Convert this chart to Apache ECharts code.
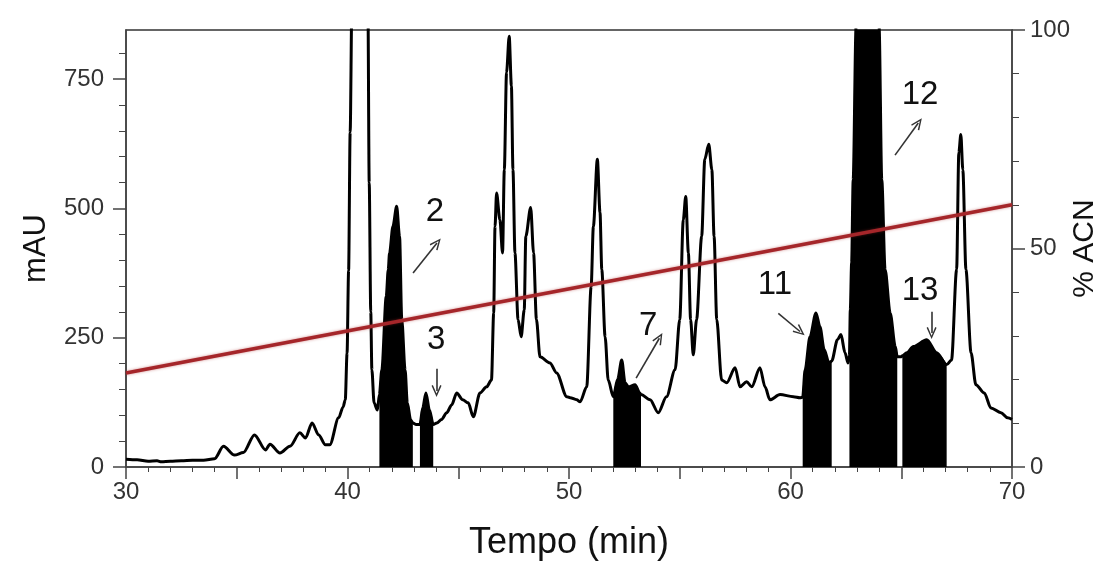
<!DOCTYPE html>
<html>
<head>
<meta charset="utf-8">
<title>Cromatograma</title>
<script src="https://cdn.jsdelivr.net/npm/echarts@6/dist/echarts.min.js"></script>
<style>
  html, body { margin: 0; padding: 0; background: #fff; }
  #chart { width: 1103px; height: 563px; }
</style>
</head>
<body>
<div id="chart"></div>
<script>
// trace: tempo (min) -> absorbance (mAU)
var tempo = [30.0, 30.5, 31.0, 31.4, 31.6, 32.0, 32.5, 33.0, 33.5, 34.0, 34.4, 34.9, 35.3, 35.8, 36.3, 36.5, 36.95, 37.4, 37.85, 38.1,
  38.4, 38.7, 39.0, 39.2, 39.6, 39.8, 39.9, 39.98, 40.05, 40.12, 40.2, 40.6, 40.92, 40.98, 41.05, 41.1, 41.2, 41.35, 41.44, 41.55,
  41.75, 41.84, 41.9, 42.05, 42.22, 42.35, 42.45, 42.6, 42.7, 42.85, 42.95, 43.1, 43.27, 43.4, 43.54, 43.7, 43.87, 44.03, 44.25, 44.48,
  44.7, 44.93, 45.2, 45.45, 45.68, 45.98, 46.28, 46.5, 46.6, 46.66, 46.73, 46.88, 47.0, 47.08, 47.18, 47.3, 47.4, 47.47, 47.56, 47.7,
  47.84, 47.98, 48.05, 48.27, 48.4, 48.53, 48.69, 49.14, 49.44, 49.9, 50.05, 50.35, 50.5, 50.8, 51.0, 51.1, 51.28, 51.4, 51.48, 51.63,
  51.77, 52.0, 52.2, 52.38, 52.53, 52.68, 52.98, 53.2, 53.25, 53.66, 54.03, 54.4, 54.79, 55.0, 55.16, 55.27, 55.39, 55.49, 55.61, 55.76,
  55.99, 56.13, 56.31, 56.45, 56.55, 56.67, 56.89, 57.12, 57.5, 57.72, 58.02, 58.25, 58.62, 58.85, 59.07, 59.53, 60.13, 60.43, 60.55, 60.66,
  60.88, 61.15, 61.33, 61.52, 61.74, 61.86, 62.12, 62.28, 62.46, 62.6, 62.66, 62.7, 62.76, 62.83, 62.96, 63.5, 64.0, 64.12, 64.27, 64.5,
  64.73, 64.82, 65.0, 65.05, 65.25, 65.55, 66.15, 66.6, 67.05, 67.27, 67.5, 67.6, 67.69, 67.78, 67.92, 68.15, 68.37, 68.75, 69.05, 69.5,
  69.8, 70.0];
var mau = [15, 14, 11, 12, 10, 11, 12, 13, 13, 16, 40, 23, 28, 62, 33, 44, 27, 40, 66, 56,
  85, 62, 43, 43, 95, 116, 130, 220, 380, 647, 900, 1500, 900, 550, 300, 188, 124, 110, 140, 188,
  330, 382, 414, 465, 504, 446, 285, 188, 124, 91, 85, 82, 82, 115, 143, 110, 82, 85, 92, 105,
  120, 143, 130, 124, 97, 143, 155, 168, 298, 465, 530, 478, 414, 575, 763, 833, 737, 575, 414, 285,
  252, 304, 446, 502, 414, 285, 213, 201, 182, 136, 134, 130, 126, 155, 349, 465, 595, 492, 382, 252,
  168, 136, 170, 207, 163, 155, 159, 143, 140, 130, 105, 136, 188, 285, 478, 523, 414, 285, 217, 285,
  446, 595, 624, 575, 446, 285, 168, 163, 192, 155, 165, 155, 192, 155, 130, 140, 136, 134, 135, 188,
  252, 298, 271, 227, 201, 205, 246, 256, 221, 201, 215, 304, 395, 556, 850, 1400, 850, 556, 382, 298,
  233, 213, 213, 215, 221, 233, 246, 221, 198, 207, 382, 608, 643, 575, 382, 221, 159, 143, 114, 105,
  95, 92];

// % ACN gradient
var gradTempo = [30, 70];
var gradAcn = [21.5, 60];

// collected fractions (black-filled peaks)
var fracoes = [[41.44, 42.95], [43.27, 43.87], [52.0, 53.25], [60.55, 61.86], [62.66, 64.82], [65.05, 67.05]];

// peak labels and their arrows, in data coordinates
var picos = ['2', '3', '7', '11', '12', '13'];
var picoTexto = [[43.95, 494], [44.0, 246], [53.58, 272], [59.3, 352], [65.85, 720], [65.85, 340]];
var setaDe = [[42.96, 375], [44.02, 190], [53.03, 172], [59.45, 297], [64.72, 603], [66.37, 300]];
var setaPara = [[44.04, 433], [44.02, 147], [54.08, 249], [60.43, 262], [65.77, 665], [66.37, 259]];

// axis ticks
var tempoTicks = [30, 40, 50, 60, 70];
var mauTicks = [0, 250, 500, 750];
var mauMinor = [50, 100, 150, 200, 300, 350, 400, 450, 550, 600, 650, 700, 800];
var acnTicks = [0, 50, 100];

var chart = echarts.init(document.getElementById('chart'));

var fonte = '"Liberation Sans", Arial, sans-serif';
var eixoCor = '#444';
var suave = 0.3;

var traco = tempo.map(function (t, i) { return [t, mau[i]]; });

var seriesFracoes = fracoes.map(function (f) {
  return {
    type: 'line',
    data: traco.filter(function (p) { return p[0] >= f[0] && p[0] <= f[1]; }),
    symbol: 'none',
    smooth: suave,
    smoothMonotone: 'x',
    lineStyle: { color: '#000', width: 1 },
    areaStyle: { color: '#000', opacity: 1 },
    z: 2
  };
});

var seta = 'path://M0,12 L6,0 L12,12 L10.4,12.8 L6,3.6 L1.6,12.8 Z';

var option = {
  animation: false,
  grid: {
    left: 126, right: 91, top: 30, bottom: 96,
    show: true, borderColor: '#333', borderWidth: 1.5,
    outerBoundsMode: 'none'
  },
  xAxis: [{
    type: 'value',
    min: 30, max: 70, interval: 5,
    name: 'Tempo (min)',
    nameLocation: 'middle',
    nameGap: 58,
    nameMoveOverlap: false,
    nameTextStyle: { fontFamily: fonte, fontSize: 36, color: '#111' },
    axisLine: { show: true, lineStyle: { color: eixoCor, width: 1.5 } },
    axisTick: { show: true, length: 12, lineStyle: { color: eixoCor, width: 1.5 } },
    minorTick: { show: true, splitNumber: 5, length: 5, lineStyle: { color: eixoCor, width: 1 } },
    axisLabel: { customValues: tempoTicks, fontFamily: fonte, fontSize: 24, color: '#333', margin: 13 },
    splitLine: { show: false }
  }],
  yAxis: [{
    type: 'value',
    position: 'left',
    min: 0, max: 845,
    name: 'mAU',
    nameLocation: 'middle',
    nameGap: 74,
    nameMoveOverlap: false,
    nameTextStyle: { fontFamily: fonte, fontSize: 31, color: '#111' },
    axisLine: { show: true, lineStyle: { color: eixoCor, width: 1.5 } },
    axisTick: { show: true, customValues: mauTicks, length: 13, lineStyle: { color: eixoCor, width: 1.5 } },
    axisLabel: { customValues: mauTicks, fontFamily: fonte, fontSize: 24, color: '#333', margin: 22 },
    splitLine: { show: false }
  }, {
    type: 'value',
    position: 'left',
    min: 0, max: 845,
    axisLine: { show: false },
    axisTick: { show: true, customValues: mauMinor, length: 7, lineStyle: { color: eixoCor, width: 1 } },
    axisLabel: { show: false },
    splitLine: { show: false }
  }, {
    type: 'value',
    position: 'right',
    min: 0, max: 100, interval: 50,
    name: '% ACN',
    nameLocation: 'middle',
    nameGap: 58,
    nameMoveOverlap: false,
    nameTextStyle: { fontFamily: fonte, fontSize: 30, color: '#111' },
    axisLine: { show: true, lineStyle: { color: eixoCor, width: 1.5 } },
    axisTick: { show: true, length: 13, lineStyle: { color: eixoCor, width: 1.5 } },
    minorTick: { show: true, splitNumber: 5, length: 7, lineStyle: { color: eixoCor, width: 1 } },
    axisLabel: { customValues: acnTicks, fontFamily: fonte, fontSize: 24, color: '#333', margin: 18 },
    splitLine: { show: false }
  }],
  series: seriesFracoes.concat([{
    name: 'mAU',
    type: 'line',
    data: traco,
    symbol: 'none',
    smooth: suave,
    smoothMonotone: 'x',
    z: 3,
    lineStyle: { color: '#000', width: 3, join: 'round' },
    markPoint: {
      silent: true,
      symbol: 'circle',
      symbolSize: 1,
      itemStyle: { color: 'rgba(0,0,0,0)' },
      label: {
        show: true, position: 'inside',
        formatter: function (p) { return p.name; },
        fontFamily: fonte, fontSize: 33, color: '#111'
      },
      data: picos.map(function (n, i) { return { name: n, coord: picoTexto[i] }; })
    },
    markLine: {
      silent: true,
      symbol: ['none', seta],
      symbolSize: [10, 12],
      lineStyle: { color: '#333', width: 1.6, type: 'solid' },
      label: { show: false },
      data: picos.map(function (n, i) { return [{ coord: setaDe[i] }, { coord: setaPara[i] }]; })
    }
  }, {
    name: '% ACN',
    type: 'line',
    yAxisIndex: 2,
    data: gradTempo.map(function (t, i) { return [t, gradAcn[i]]; }),
    symbol: 'none',
    z: 4,
    lineStyle: { color: '#a5262a', width: 3.5, shadowBlur: 3, shadowColor: 'rgba(170,40,40,0.5)' }
  }])
};

chart.setOption(option);
</script>
</body>
</html>
